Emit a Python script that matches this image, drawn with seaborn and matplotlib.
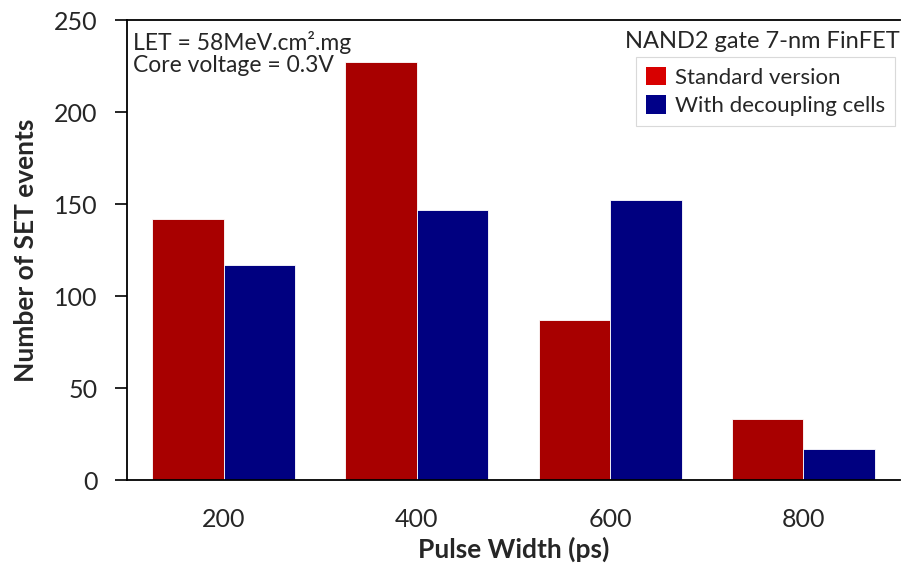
import matplotlib
matplotlib.use("Agg")
import matplotlib.pyplot as plt
from matplotlib.patches import Patch
import seaborn as sns
import pandas as pd

# data
pulse_widths = ["200", "400", "600", "800"]
standard = [142, 227, 87, 33]
decoupled = [117, 147, 152, 17]
series_names = ["Standard version", "With decoupling cells"]
bar_colors = ["#A80000", "#000080"]
legend_colors = ["#D80000", "#000088"]

df = pd.DataFrame({
    "Pulse Width (ps)": pulse_widths * 2,
    "count": standard + decoupled,
    "version": [series_names[0]] * 4 + [series_names[1]] * 4,
})

sns.set_style("white")
plt.rcParams["font.family"] = ["Lato", "DejaVu Sans"]

fig = plt.figure(figsize=(9.02, 5.65), dpi=100)
ax = fig.add_axes([0.1408, 0.1504, 0.857, 0.8142])

sns.barplot(data=df, x="Pulse Width (ps)", y="count", hue="version",
            palette=bar_colors, width=0.74, saturation=1,
            linewidth=0.6, edgecolor="#ffffff", legend=False, ax=ax)

ax.set_xlim(-0.5, 3.5)
ax.set_ylim(0, 250)
ax.set_yticks(range(0, 251, 50))

# x ticks sit between the groups, labels at group centres
ax.set_xticks([-0.5, 0.5, 1.5, 2.5, 3.5], minor=True)
ax.tick_params(axis="x", which="major", length=0, pad=20, labelsize=18)
ax.tick_params(axis="x", which="minor", length=9, width=1.2, direction="out", color="black")
ax.tick_params(axis="y", which="major", length=9, width=1.2, direction="out",
               color="black", labelsize=18, left=True, pad=12)

for side in ["left", "bottom", "top"]:
    ax.spines[side].set_color("black")
    ax.spines[side].set_linewidth(1.3)
ax.spines["right"].set_visible(False)

ax.set_xlabel("Pulse Width (ps)", fontsize=19, fontweight="bold", labelpad=4)
ax.set_ylabel("Number of SET events", fontsize=19, fontweight="bold", labelpad=12)

ax.text(0.008, 0.977, "LET = 58MeV.cm\u00b2.mg\nCore voltage = 0.3V",
        transform=ax.transAxes, ha="left", va="top", fontsize=16.5, linespacing=1.08)
ax.text(1.0, 0.977, "NAND2 gate 7-nm FinFET", transform=ax.transAxes,
        ha="right", va="top", fontsize=17)

handles = [Patch(facecolor=c, edgecolor="none") for c in legend_colors]
leg = ax.legend(handles, series_names, loc="upper right", bbox_to_anchor=(0.9935, 0.92),
                fontsize=16, frameon=True, fancybox=False, handlelength=0.9,
                handleheight=0.9, handletextpad=0.4, borderpad=0.45, labelspacing=0.35,
                borderaxespad=0)
leg.get_frame().set_edgecolor("#d0d0d0")
leg.get_frame().set_linewidth(0.8)

fig.savefig("out.png", dpi=100)
